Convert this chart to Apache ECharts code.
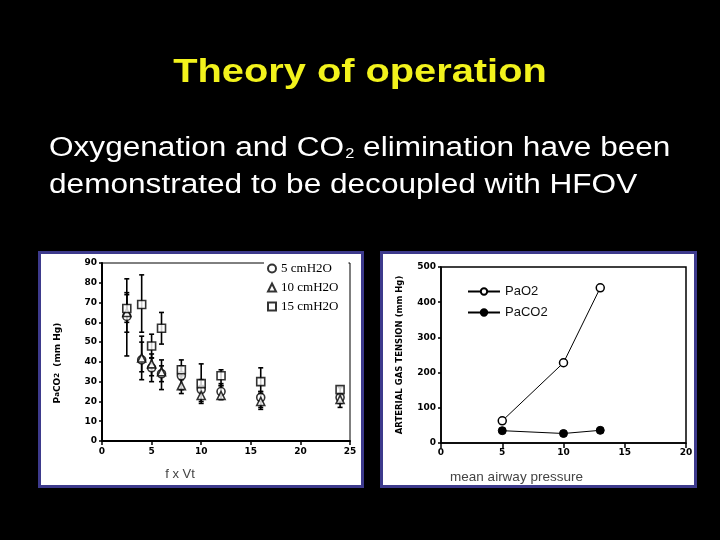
<!DOCTYPE html>
<html>
<head>
<meta charset="utf-8">
<script src="https://cdn.jsdelivr.net/npm/echarts@6/dist/echarts.min.js"></script>
<style>html,body{margin:0;padding:0;background:#000;}#c{width:720px;height:540px;}</style>
</head>
<body>
<div id="c"></div>
<script>
// ---- Left chart: PaCO2 vs f x Vt ----
const fxVt = [2.5, 4, 5, 6, 8, 10, 12, 16, 24];
const co2_5 = [63, 41, 37, 34, 33, 26, 25, 22, 22];
const co2_5_lo = [55, 31, 30, 26, 26, 20, 21, 17, 19];
const co2_5_hi = [75, 53, 44, 41, 38, 31, 29, 25, 24];
const co2_10 = [65, 42, 39, 35, 28, 23, 23, 20, 21];
const co2_10_lo = [43, 35, 33, 30, 24, 19, 21, 16, 17];
const co2_10_hi = [82, 50, 42, 38, 33, 28, 28, 24, 23];
const co2_15 = [67, 69, 48, 57, 36, 29, 33, 30, 26];
const co2_15_lo = [60, 55, 42, 49, 31, 25, 28, 25, 24];
const co2_15_hi = [74, 84, 54, 65, 41, 39, 36, 37, 27];
const leftNames = ['5 cmH2O', '10 cmH2O', '15 cmH2O'];

// ---- Right chart: gas tension vs mean airway pressure ----
const map = [5, 10, 13];
const pao2 = [63, 228, 441];
const paco2 = [35, 27, 36];
const rightNames = ['PaO2', 'PaCO2'];

const chart = echarts.init(document.getElementById('c'), null, {renderer: 'canvas'});

function zip(xs, ys) { return xs.map((x, i) => [x, ys[i]]); }
function zipErr(xs, lo, hi) { return xs.map((x, i) => [x, lo[i], hi[i]]); }

function errRender(params, api) {
  const x = api.value(0), lo = api.value(1), hi = api.value(2);
  const a = api.coord([x, lo]);
  const b = api.coord([x, hi]);
  const w = 2.5;
  const style = {stroke: '#000', lineWidth: 1.6};
  return {
    type: 'group',
    children: [
      {type: 'line', shape: {x1: a[0], y1: a[1], x2: b[0], y2: b[1]}, style: style},
      {type: 'line', shape: {x1: a[0] - w, y1: a[1], x2: a[0] + w, y2: a[1]}, style: style},
      {type: 'line', shape: {x1: b[0] - w, y1: b[1], x2: b[0] + w, y2: b[1]}, style: style}
    ]
  };
}

const tickFont = {color: '#000', fontFamily: 'DejaVu Sans', fontWeight: 'bold', fontSize: 9};
const symStyle = {color: '#fff', borderColor: '#000', borderWidth: 1.6};
const STRETCH = 1.17;

const option = {
  backgroundColor: '#000',
  animation: false,
  graphic: [
    {type: 'rect', z: -10, shape: {x: 39.5, y: 252.5, width: 323, height: 234}, style: {fill: '#fff', stroke: '#3d3a8c', lineWidth: 3}},
    {type: 'rect', z: -10, shape: {x: 381.5, y: 252.5, width: 314, height: 234}, style: {fill: '#fff', stroke: '#3d3a8c', lineWidth: 3}},
    {type: 'text', x: 360, y: 73, scaleX: STRETCH, z: 10,
      style: {text: 'Theory of operation', fill: '#f2f21c', fontFamily: 'Liberation Sans', fontWeight: 'bold', fontSize: 34,
        align: 'center', verticalAlign: 'middle'}},
    {type: 'text', x: 49, y: 148.5, scaleX: STRETCH, z: 10,
      style: {text: 'Oxygenation and CO{s|2} elimination have been', fill: '#fff', fontFamily: 'Liberation Sans', fontSize: 27,
        lineHeight: 32, align: 'left', verticalAlign: 'middle',
        rich: {s: {fill: '#fff', fontFamily: 'Liberation Sans', fontSize: 14, lineHeight: 32, padding: [11, 0, 0, 1]}}}},
    {type: 'text', x: 49, y: 185.5, scaleX: STRETCH, z: 10,
      style: {text: 'demonstrated to be decoupled with HFOV', fill: '#fff', fontFamily: 'Liberation Sans', fontSize: 27,
        lineHeight: 32, align: 'left', verticalAlign: 'middle'}}
  ],
  legend: [
    {
      data: leftNames, orient: 'vertical', left: 264, top: 260, itemGap: 6,
      itemWidth: 8, itemHeight: 8, backgroundColor: '#fff', padding: [2, 10, 2, 3],
      textStyle: {color: '#000', fontFamily: 'Liberation Serif', fontSize: 13}
    },
    {
      data: rightNames, orient: 'vertical', left: 462, top: 280, itemGap: 8,
      itemWidth: 32, itemHeight: 8,
      textStyle: {color: '#111', fontFamily: 'Liberation Sans', fontSize: 13}
    }
  ],
  grid: [
    {left: 102, top: 263, width: 248, height: 178, show: true, borderColor: '#000', borderWidth: 1, backgroundColor: 'transparent'},
    {left: 441, top: 267, width: 245, height: 176, show: true, borderColor: '#000', borderWidth: 1.5, backgroundColor: 'transparent'}
  ],
  xAxis: [
    {
      gridIndex: 0, type: 'value', min: 0, max: 25, interval: 5,
      name: 'f x Vt', nameLocation: 'middle', nameGap: 27,
      nameTextStyle: {color: '#444', fontFamily: 'Liberation Sans', fontSize: 13, padding: [0, 92, 0, 0]},
      axisLine: {show: true, lineStyle: {color: '#000', width: 2}},
      axisTick: {show: true, inside: false, length: 4, lineStyle: {color: '#000', width: 1.5}},
      axisLabel: Object.assign({margin: 6}, tickFont),
      splitLine: {show: false}
    },
    {
      gridIndex: 1, type: 'value', min: 0, max: 20, interval: 5,
      name: 'mean airway pressure', nameLocation: 'middle', nameGap: 27,
      nameTextStyle: {color: '#444', fontFamily: 'Liberation Sans', fontSize: 13.5, padding: [0, 94, 0, 0]},
      axisLine: {show: true, lineStyle: {color: '#000', width: 1.5}},
      axisTick: {show: true, inside: false, length: 5, lineStyle: {color: '#000', width: 1.5}},
      axisLabel: Object.assign({margin: 5}, tickFont),
      splitLine: {show: false}
    }
  ],
  yAxis: [
    {
      gridIndex: 0, type: 'value', min: 0, max: 90, interval: 10,
      name: 'P{s|a}CO{s|2}  (mm Hg)', nameLocation: 'middle', nameGap: 40, nameRotate: 90,
      nameTextStyle: {color: '#000', fontFamily: 'DejaVu Sans', fontWeight: 'bold', fontSize: 9, padding: [0, 22, 0, 0],
        rich: {s: {color: '#000', fontFamily: 'DejaVu Sans', fontWeight: 'bold', fontSize: 7}}},
      axisLine: {show: true, lineStyle: {color: '#000', width: 2}},
      axisTick: {show: true, inside: false, length: 3, lineStyle: {color: '#000', width: 1.5}},
      axisLabel: Object.assign({margin: 5}, tickFont),
      splitLine: {show: false}
    },
    {
      gridIndex: 1, type: 'value', min: 0, max: 500, interval: 100,
      name: 'ARTERIAL GAS TENSION (mm Hg)', nameLocation: 'middle', nameGap: 37, nameRotate: 90,
      nameTextStyle: {color: '#000', fontFamily: 'DejaVu Sans', fontWeight: 'bold', fontSize: 8.5},
      axisLine: {show: true, lineStyle: {color: '#000', width: 1.5}},
      axisTick: {show: true, inside: false, length: 3, lineStyle: {color: '#000', width: 1.5}},
      axisLabel: Object.assign({margin: 5}, tickFont),
      splitLine: {show: false}
    }
  ],
  series: [
    {type: 'custom', xAxisIndex: 0, yAxisIndex: 0, z: 1, renderItem: errRender, encode: {x: 0, y: [1, 2]}, data: zipErr(fxVt, co2_5_lo, co2_5_hi), silent: true},
    {type: 'custom', xAxisIndex: 0, yAxisIndex: 0, z: 1, renderItem: errRender, encode: {x: 0, y: [1, 2]}, data: zipErr(fxVt, co2_10_lo, co2_10_hi), silent: true},
    {type: 'custom', xAxisIndex: 0, yAxisIndex: 0, z: 1, renderItem: errRender, encode: {x: 0, y: [1, 2]}, data: zipErr(fxVt, co2_15_lo, co2_15_hi), silent: true},
    {name: leftNames[0], type: 'scatter', xAxisIndex: 0, yAxisIndex: 0, z: 3, symbol: 'circle', symbolSize: 8, itemStyle: symStyle, data: zip(fxVt, co2_5)},
    {name: leftNames[1], type: 'scatter', xAxisIndex: 0, yAxisIndex: 0, z: 3, symbol: 'triangle', symbolSize: 8, itemStyle: symStyle, data: zip(fxVt, co2_10)},
    {name: leftNames[2], type: 'scatter', xAxisIndex: 0, yAxisIndex: 0, z: 3, symbol: 'rect', symbolSize: 8, itemStyle: symStyle, data: zip(fxVt, co2_15)},
    {name: rightNames[0], type: 'line', xAxisIndex: 1, yAxisIndex: 1, symbol: 'circle', symbolSize: 8,
      lineStyle: {color: '#000', width: 1}, itemStyle: {color: '#fff', borderColor: '#000', borderWidth: 1.5}, data: zip(map, pao2)},
    {name: rightNames[1], type: 'line', xAxisIndex: 1, yAxisIndex: 1, symbol: 'circle', symbolSize: 8,
      lineStyle: {color: '#000', width: 1}, itemStyle: {color: '#000', borderColor: '#000', borderWidth: 1}, data: zip(map, paco2)}
  ]
};
chart.setOption(option);
</script>
</body>
</html>
